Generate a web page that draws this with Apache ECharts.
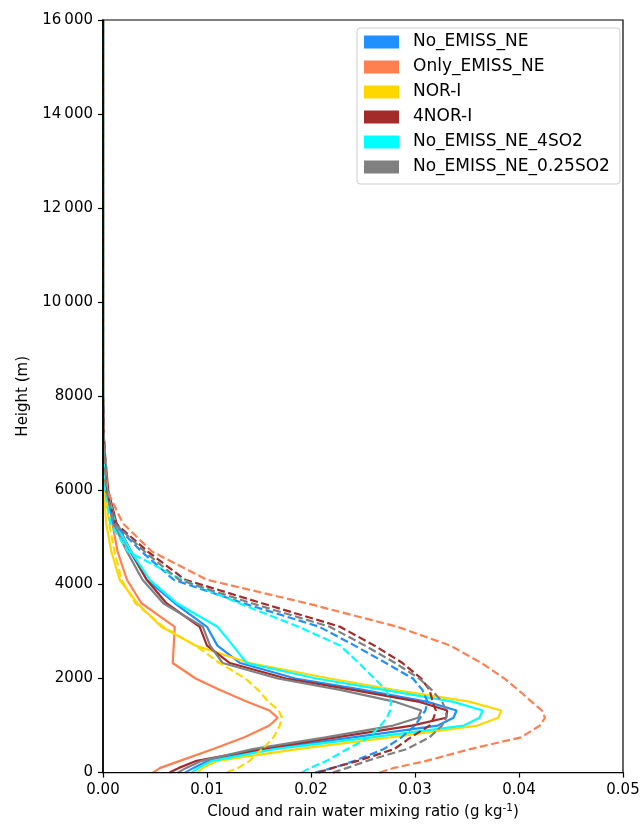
<!DOCTYPE html>
<html>
<head>
<meta charset="utf-8">
<script src="https://cdn.jsdelivr.net/npm/echarts@6/dist/echarts.min.js"></script>
<style>
html,body{margin:0;padding:0;background:#fff;}
#c{width:643px;height:825px;}
</style>
</head>
<body>
<div id="c"></div>
<script>
// Heights (m) at which values are read
const heights = [0,100,250,500,750,1000,1165,1320,1510,1760,2000,2330,2700,3100,3600,4100,4700,5300,6000,7000,8000,10000,16000];

// Solid lines
const noEmissSolid   = [0.0079,0.0087,0.0101,0.0157,0.0240,0.0322,0.0337,0.0340,0.0311,0.0250,0.0185,0.0132,0.0110,0.0100,0.0069,0.0042,0.0026,0.0012,0.0004,0.0001,0,0,0];
const onlyEmissSolid = [0.0048,0.0055,0.0074,0.0106,0.0136,0.0160,0.0168,0.0160,0.0138,0.0112,0.0089,0.0067,0.0068,0.0069,0.0037,0.0023,0.0014,0.0009,0.0004,0.0001,0,0,0];
const norSolid       = [0.0091,0.0096,0.0110,0.0187,0.0276,0.0360,0.0380,0.0383,0.0352,0.0280,0.0218,0.0141,0.0089,0.0056,0.0033,0.0016,0.0008,0.0003,0.0001,0,0,0,0];
const fourNorSolid   = [0.0064,0.0073,0.0090,0.0152,0.0224,0.0297,0.0330,0.0331,0.0303,0.0240,0.0176,0.0122,0.0100,0.0093,0.0061,0.0042,0.0027,0.0013,0.0005,0.0001,0,0,0];
const so2x4Solid     = [0.0085,0.0092,0.0105,0.0165,0.0258,0.0347,0.0362,0.0365,0.0336,0.0270,0.0205,0.0138,0.0125,0.0110,0.0071,0.0045,0.0027,0.0012,0.0004,0.0001,0,0,0];
const so2qSolid      = [0.0072,0.0080,0.0095,0.0144,0.0214,0.0279,0.0303,0.0306,0.0280,0.0228,0.0168,0.0115,0.0103,0.0096,0.0058,0.0038,0.0023,0.0010,0.0003,0.0001,0,0,0];

// Dashed lines
const noEmissDash    = [0.0204,0.0221,0.0242,0.0270,0.0287,0.0300,0.0305,0.0310,0.0312,0.0307,0.0298,0.0272,0.0242,0.0208,0.0135,0.0068,0.0037,0.0010,0.0003,0.0001,0,0,0];
const onlyEmissDash  = [0.0266,0.0280,0.0311,0.0353,0.0402,0.0420,0.0425,0.0422,0.0412,0.0399,0.0386,0.0364,0.0334,0.0283,0.0196,0.0100,0.0047,0.0019,0.0004,0.0001,0,0,0];
const norDash        = [0.0119,0.0130,0.0141,0.0153,0.0164,0.0170,0.0172,0.0169,0.0159,0.0149,0.0137,0.0112,0.0089,0.0058,0.0031,0.0018,0.0011,0.0006,0.0002,0,0,0,0];
const fourNorDash    = [0.0207,0.0221,0.0245,0.0280,0.0296,0.0314,0.0318,0.0320,0.0317,0.0314,0.0306,0.0288,0.0261,0.0228,0.0153,0.0079,0.0043,0.0012,0.0003,0.0001,0,0,0];
const so2x4Dash      = [0.0191,0.0199,0.0215,0.0235,0.0256,0.0267,0.0273,0.0276,0.0277,0.0272,0.0261,0.0246,0.0228,0.0188,0.0131,0.0076,0.0024,0.0007,0.0002,0,0,0,0];
const so2qDash       = [0.0221,0.0235,0.0254,0.0292,0.0314,0.0326,0.0330,0.0330,0.0326,0.0316,0.0304,0.0281,0.0252,0.0218,0.0143,0.0073,0.0040,0.0011,0.0003,0.0001,0,0,0];

const names  = ['No_EMISS_NE','Only_EMISS_NE','NOR-I','4NOR-I','No_EMISS_NE_4SO2','No_EMISS_NE_0.25SO2'];
const colors = ['#1E90FF','#FF7F50','#FFD700','#A52A2A','#00FFFF','#808080'];
const solid  = [noEmissSolid, onlyEmissSolid, norSolid, fourNorSolid, so2x4Solid, so2qSolid];
const dashed = [noEmissDash, onlyEmissDash, norDash, fourNorDash, so2x4Dash, so2qDash];

const xTicks = [0, 0.01, 0.02, 0.03, 0.04, 0.05];
const yTicks = [0, 2000, 4000, 6000, 8000, 10000, 12000, 14000, 16000];

function toPts(vals){ return heights.map((h,i)=>[vals[i], h]); }

const series = [];
for (let i=0;i<6;i++){
  series.push({name:names[i], type:'line', data:toPts(solid[i]), showSymbol:false, symbol:'none',
    lineStyle:{color:colors[i], width:2.2}, itemStyle:{color:colors[i]}, animation:false, z:1});
}
for (let i=0;i<6;i++){
  series.push({name:names[i]+' ', type:'line', data:toPts(dashed[i]), showSymbol:false, symbol:'none',
    lineStyle:{color:colors[i], width:2.2, type:[8,3.5]}, itemStyle:{color:colors[i]}, animation:false, z:1});
}

const font = 'DejaVu Sans';
const chart = echarts.init(document.getElementById('c'), null, {renderer:'canvas'});
chart.setOption({
  backgroundColor:'#fff',
  animation:false,
  grid:{left:103, right:20, top:20, bottom:52, show:true, borderColor:'#000', borderWidth:1.2, backgroundColor:'transparent', z:5},
  // white mask outside the left spine (matplotlib clips lines to the axes box)
  graphic:[{type:'rect', left:99, top:18, z:4, shape:{width:3.2, height:753}, style:{fill:'#fff'}, silent:true}],
  legend:{
    data:names, orient:'vertical', left:357, top:28, z:6,
    icon:'rect', itemWidth:35, itemHeight:13, itemGap:7,
    padding:[5,10,8,7],
    backgroundColor:'#fff',
    borderColor:'#cccccc', borderWidth:1, borderRadius:3,
    textStyle:{fontFamily:font, fontSize:17, color:'#000', lineHeight:18, padding:[0,0,0,9]}
  },
  xAxis:{
    type:'value', min:xTicks[0], max:xTicks[xTicks.length-1], interval:0.01, z:5,
    name:'Cloud and rain water mixing ratio (g kg{sup|-1})',
    nameLocation:'middle', nameGap:28,
    nameTextStyle:{fontFamily:font, fontSize:15, color:'#000',
      rich:{sup:{fontFamily:font, fontSize:10.5, color:'#000', verticalAlign:'top', padding:[0,0,9,0]}}},
    axisLine:{show:true, lineStyle:{color:'#000', width:1.2}},
    axisTick:{show:true, length:5, inside:false, lineStyle:{color:'#000', width:1.2}},
    axisLabel:{fontFamily:font, fontSize:15, color:'#000', margin:10, formatter:v=>v.toFixed(2)},
    splitLine:{show:false}
  },
  yAxis:{
    type:'value', min:yTicks[0], max:yTicks[yTicks.length-1], interval:2000, z:5,
    name:'Height (m)', nameLocation:'middle', nameGap:72,
    nameTextStyle:{fontFamily:font, fontSize:15, color:'#000'},
    axisLine:{show:true, lineStyle:{color:'#000', width:1.6}},
    axisTick:{show:true, length:5, lineStyle:{color:'#000', width:1.2}},
    axisLabel:{fontFamily:font, fontSize:15, color:'#000', margin:10,
      formatter:v=> v>=10000 ? String(v).slice(0,-3)+'\u2009'+String(v).slice(-3) : String(v)},
    splitLine:{show:false}
  },
  series:series
});
</script>
</body>
</html>
